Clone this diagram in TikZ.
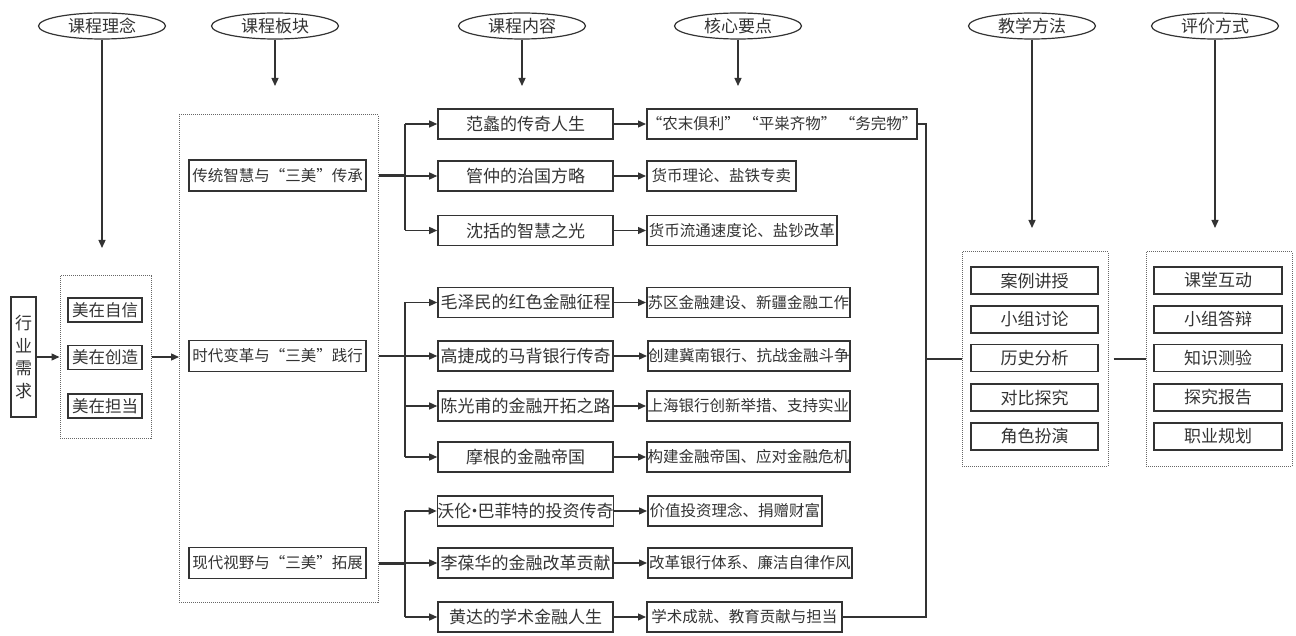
\documentclass[tikz,border=0pt]{standalone}
\usepackage{fontspec}
\setmainfont{Noto Sans CJK SC}
\usetikzlibrary{arrows.meta,shapes.geometric}
\definecolor{ink}{HTML}{333333}
\definecolor{dotc}{HTML}{666666}
\begin{document}
\begin{tikzpicture}[x=1pt,y=-1pt,
  ell/.style={ellipse, draw=ink, line width=1.2pt, minimum width=127pt, minimum height=26pt, inner sep=0pt, font=\fontsize{17}{17}\selectfont, text=ink},
  box/.style={draw=ink, line width=1.6pt, inner sep=0pt, font=\fontsize{17}{17}\selectfont, text=ink, minimum height=30pt},
  bbox/.style={box, minimum width=177pt, minimum height=31pt, font=\fontsize{15.5}{15.5}\selectfont},
  cbox/.style={box, minimum width=175pt},
  kbox/.style={box, anchor=west, font=\fontsize{15.5}{15.5}\selectfont},
  mbox/.style={box, minimum width=74pt, minimum height=24pt, font=\fontsize{16.5}{16.5}\selectfont},
  tbox/.style={box, minimum width=127pt, minimum height=27pt},
  dbox/.style={draw=dotc, line width=1pt, dash pattern=on 1pt off 1pt, inner sep=0pt},
  arr/.style={-{Triangle[length=8pt,width=7pt]}, draw=ink, line width=1.3pt},
  ln/.style={draw=ink, line width=1.3pt},
  thk/.style={draw=ink, line width=3pt}
]
\useasboundingbox (0,0) rectangle (1296,636);

% header ellipses
\node[ell] (e1) at (102,26) {课程理念};
\node[ell] (e2) at (275,26) {课程板块};
\node[ell] (e3) at (522,26) {课程内容};
\node[ell] (e4) at (738,26) {核心要点};
\node[ell] (e5) at (1032,26) {教学方法};
\node[ell] (e6) at (1215,26) {评价方式};
\coordinate (a1) at (102,248);
\coordinate (a2) at (275,86);
\coordinate (a3) at (522,86);
\coordinate (a4) at (738,86);
\coordinate (a5) at (1032,228);
\coordinate (a6) at (1215,228);
\draw[arr] (e1) -- (a1);
\draw[arr] (e2) -- (a2);
\draw[arr] (e3) -- (a3);
\draw[arr] (e4) -- (a4);
\draw[arr] (e5) -- (a5);
\draw[arr] (e6) -- (a6);

% industry demand
\node[box, minimum width=25pt, minimum height=120pt, align=center, font=\fontsize{17}{22.5}\selectfont] (hy) at (23.5,357) {行\\业\\需\\求};

% beauty group
\node[dbox, minimum width=91pt, minimum height=162pt] (md) at (105.5,357) {};
\node[mbox] (m1) at (105,310) {美在自信};
\node[mbox] (m2) at (105,357.5) {美在创造};
\node[mbox] (m3) at (105,406) {美在担当};
\draw[arr] (hy.east) -- (md.west);
\draw[arr] (md.east) -- (md.east -| 179,0);

% course boards
\node[dbox, minimum width=199pt, minimum height=487pt] (bd) at (278.5,358.5) {};
\node[bbox] (b1) at (277.5,175.5) {传统智慧与“三美”传承};
\node[bbox] (b2) at (277.5,356) {时代变革与“三美”践行};
\node[bbox] (b3) at (277.5,563) {现代视野与“三美”拓展};

% contents
\node[cbox] (c1) at (525.5,124) {范蠡的传奇人生};
\node[cbox] (c2) at (525.5,176) {管仲的治国方略};
\node[cbox] (c3) at (525.5,230.5) {沈括的智慧之光};
\node[cbox] (c4) at (525.5,302.5) {毛泽民的红色金融征程};
\node[cbox] (c5) at (525.5,356) {高捷成的马背银行传奇};
\node[cbox] (c6) at (525.5,406) {陈光甫的金融开拓之路};
\node[cbox] (c7) at (525.5,457) {摩根的金融帝国};
\node[cbox] (c8) at (525.5,511) {沃伦\kern-0.32em·\kern-0.32em巴菲特的投资传奇};
\node[cbox] (c9) at (525.5,563) {李葆华的金融改革贡献};
\node[cbox] (c10) at (525.5,617) {黄达的学术金融人生};

% key points
\node[kbox, minimum width=256pt] (k1) at (646,124) {“农末俱利” “平粜齐物” “务完物”};
\node[kbox, minimum width=149pt] (k2) at (646,176) {货币理论、盐铁专卖};
\node[kbox, minimum width=190pt] (k3) at (646,230.5) {货币流通速度论、盐钞改革};
\node[kbox, minimum width=203pt] (k4) at (646,302.5) {苏区金融建设、新疆金融工作};
\node[kbox, minimum width=202pt] (k5) at (647,356) {创建冀南银行、抗战金融斗争};
\node[kbox, minimum width=203pt] (k6) at (646,406) {上海银行创新举措、支持实业};
\node[kbox, minimum width=203pt] (k7) at (646,457) {构建金融帝国、应对金融危机};
\node[kbox, minimum width=174pt] (k8) at (647,511) {价值投资理念、捐赠财富};
\node[kbox, minimum width=204pt] (k9) at (647,563) {改革银行体系、廉洁自律作风};
\node[kbox, minimum width=195pt] (k10) at (646,617) {学术成就、教育贡献与担当};

% branches
\coordinate (j1) at (405,175.5);
\coordinate (j2) at (405,356);
\coordinate (j3) at (405,563);
\draw[thk] (b1.east -| bd.east) -- (j1);
\draw[ln] (b2.east -| bd.east) -- (j2);
\draw[thk] (b3.east -| bd.east) -- (j3);
\draw[ln] (j1 |- c1) -- (j1 |- c3);
\draw[ln] (j2 |- c4) -- (j2 |- c7);
\draw[ln] (j3 |- c8) -- (j3 |- c10);
\foreach \c in {c1,c2,c3}{\draw[arr] (j1 |- \c) -- (\c.west);}
\foreach \c in {c4,c5,c6,c7}{\draw[arr] (j2 |- \c) -- (\c.west);}
\foreach \c in {c8,c9,c10}{\draw[arr] (j3 |- \c) -- (\c.west);}
\foreach \i in {1,...,10}{\draw[arr] (c\i.east) -- (k\i.west);}

% teaching and evaluation
\node[dbox, minimum width=146pt, minimum height=214pt] (td) at (1035,359) {};
\node[dbox, minimum width=146pt, minimum height=214pt] (ev) at (1219,359) {};
\node[tbox] (t1) at (1034.5,280.5) {案例讲授};
\node[tbox] (t2) at (1034.5,319.5) {小组讨论};
\node[tbox] (t3) at (1034.5,358) {历史分析};
\node[tbox] (t4) at (1034.5,397.5) {对比探究};
\node[tbox] (t5) at (1034.5,436.5) {角色扮演};
\node[tbox, minimum width=128pt] (v1) at (1218,280.5) {课堂互动};
\node[tbox, minimum width=128pt] (v2) at (1218,319.5) {小组答辩};
\node[tbox, minimum width=128pt] (v3) at (1218,358) {知识测验};
\node[tbox, minimum width=128pt] (v4) at (1218,397.5) {探究报告};
\node[tbox, minimum width=128pt] (v5) at (1218,436.5) {职业规划};

% right connectors
\coordinate (rx) at (926,0);
\draw[ln] (k1.east) -- (k1.east -| rx) -- (k10.east -| rx) -- (k10.east);
\draw[ln] (rx |- td.west) -- (td.west);
\draw[ln, shorten <=5pt] (td.east) -- (ev.west);
\end{tikzpicture}
\end{document}
